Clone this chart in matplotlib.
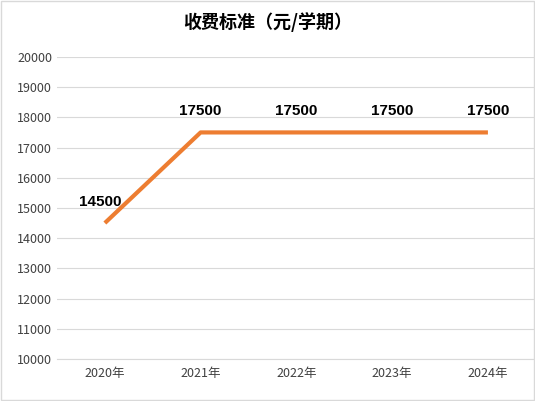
import matplotlib
matplotlib.use("Agg")
import matplotlib.pyplot as plt
from matplotlib.patches import Rectangle

plt.rcParams['font.family'] = ['Noto Sans CJK SC', 'DejaVu Sans']

years = ["2020年", "2021年", "2022年", "2023年", "2024年"]
fees = [14500, 17500, 17500, 17500, 17500]
yticks = list(range(10000, 20001, 1000))

fig = plt.figure(figsize=(5.35, 4.01), dpi=100)
ax = fig.add_axes([0.1065, 0.105, 0.895, 0.753])
x = list(range(len(years)))
ax.plot(x, fees, color='#ED7D31', lw=3, solid_capstyle='butt')
ax.set_xlim(-0.5, 4.5)
ax.set_ylim(10000, 20000)
ax.set_yticks(yticks)
ax.set_xticks(x)
ax.set_xticklabels(years)
ax.tick_params(length=0, labelsize=9, colors='#404040')
ax.tick_params(axis='x', pad=6)
ax.grid(axis='y', color='#D9D9D9', lw=0.8)
ax.set_axisbelow(True)
for s in ['top', 'right', 'left']:
    ax.spines[s].set_visible(False)
ax.spines['bottom'].set_color('#D9D9D9')
for i, v in enumerate(fees):
    dx = -0.05 if i == 0 else 0
    ax.text(i + dx, v + 700, str(v), ha='center', va='center',
            fontsize=11, fontweight='bold', color='black', family='Liberation Sans')
fig.text(0.5, 0.945, "收费标准（元/学期）", ha='center', va='center', fontsize=13, fontweight='bold')
fig.patches.append(Rectangle((0.002, 0.002), 0.996, 0.996, transform=fig.transFigure,
                             fill=False, edgecolor='#D9D9D9', lw=1))
fig.savefig("out.png", dpi=100)
